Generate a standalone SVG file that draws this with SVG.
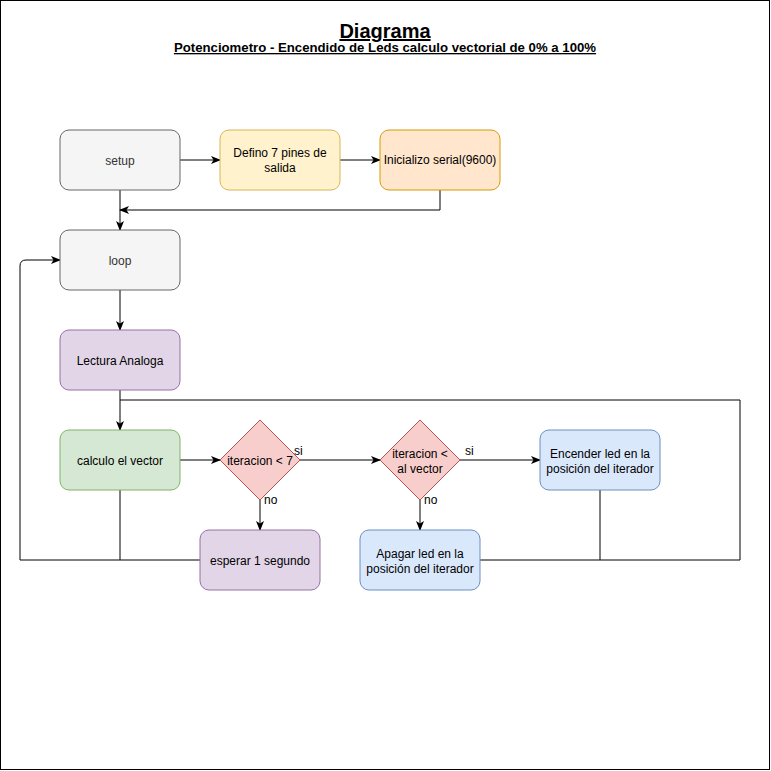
<svg xmlns="http://www.w3.org/2000/svg" width="771" height="771" viewBox="0 0 771 771">
<defs>
<marker id="arr" viewBox="0 0 10 10" refX="9" refY="5" markerWidth="10" markerHeight="10" markerUnits="userSpaceOnUse" orient="auto">
<path d="M0,1 L10,5 L0,9 L2.5,5 Z" fill="#000"/>
</marker>
<style>
text{font-family:"Liberation Sans",Arial,sans-serif;font-size:12px;fill:#000;text-anchor:middle}
.gray rect{fill:#f5f5f5;stroke:#666}
.gray text{fill:#333}
.yel rect{fill:#fff2cc;stroke:#d6b656}
.ora rect{fill:#ffe6cc;stroke:#d79b00}
.pur rect{fill:#e1d5e7;stroke:#9673a6}
.grn rect{fill:#d5e8d4;stroke:#82b366}
.blu rect{fill:#dae8fc;stroke:#6c8ebf}
.dia path{fill:#f8cecc;stroke:#b85450}
.c path{fill:none;stroke:#000;stroke-width:1}
.lbl{text-anchor:start}
</style>
</defs>
<rect x="0" y="0" width="771" height="771" fill="#fff"/>
<rect x="0.5" y="0.5" width="769" height="769" fill="none" stroke="#000"/>
<g id="title">
<text x="385" y="38" style="font-size:20px;font-weight:bold;text-decoration:underline">Diagrama</text>
<text x="385" y="52" style="font-size:13.2px;font-weight:bold;text-decoration:underline">Potenciometro - Encendido de Leds calculo vectorial de 0% a 100%</text>
</g>
<g id="connectors" class="c">
<path d="M180,160 H220" marker-end="url(#arr)"/>
<path d="M340,160 H380" marker-end="url(#arr)"/>
<path d="M440,190 V210 H120" marker-end="url(#arr)"/>
<path d="M120,190 V230" marker-end="url(#arr)"/>
<path d="M120,290 V330" marker-end="url(#arr)"/>
<path d="M120,390 V430" marker-end="url(#arr)"/>
<path d="M480,560 H740 V400 H120"/>
<path d="M600,490 V560"/>
<path d="M180,460 H220" marker-end="url(#arr)"/>
<path d="M300,460 H380" marker-end="url(#arr)"/>
<path d="M260,500 V530" marker-end="url(#arr)"/>
<path d="M460,460 H540" marker-end="url(#arr)"/>
<path d="M420,500 V530" marker-end="url(#arr)"/>
<path d="M200,560 H20 V266 Q20,260 26,260 H60" marker-end="url(#arr)"/>
<path d="M120,490 V560"/>
<text class="lbl" x="294" y="455">si</text>
<text class="lbl" x="264" y="504">no</text>
<text class="lbl" x="465" y="455">si</text>
<text class="lbl" x="424" y="504">no</text>
</g>
<g id="setup" class="gray"><rect x="60" y="130" width="120" height="60" rx="9"/><text x="120" y="165">setup</text></g>
<g id="defino" class="yel"><rect x="220" y="130" width="120" height="60" rx="9"/><text x="280" y="157">Defino 7 pines de</text><text x="280" y="172">salida</text></g>
<g id="inicializo" class="ora"><rect x="380" y="130" width="120" height="60" rx="9"/><text x="440" y="164">Inicializo serial(9600)</text></g>
<g id="loop" class="gray"><rect x="60" y="230" width="120" height="60" rx="9"/><text x="120" y="265">loop</text></g>
<g id="lectura" class="pur"><rect x="60" y="330" width="120" height="60" rx="9"/><text x="120" y="365">Lectura Analoga</text></g>
<g id="calculo" class="grn"><rect x="60" y="430" width="120" height="60" rx="9"/><text x="120" y="465">calculo el vector</text></g>
<g id="iter7" class="dia"><path d="M260,420 L300,460 L260,500 L220,460 Z"/><text x="260" y="465">iteracion &lt; 7</text></g>
<g id="itervec" class="dia"><path d="M420,420 L460,460 L420,500 L380,460 Z"/><text x="420" y="458">iteracion &lt;</text><text x="420" y="473">al vector</text></g>
<g id="encender" class="blu"><rect x="540" y="430" width="120" height="60" rx="9"/><text x="600" y="458">Encender led en la</text><text x="600" y="473">posición del iterador</text></g>
<g id="esperar" class="pur"><rect x="200" y="530" width="120" height="60" rx="9"/><text x="260" y="565">esperar 1 segundo</text></g>
<g id="apagar" class="blu"><rect x="360" y="530" width="120" height="60" rx="9"/><text x="420" y="558">Apagar led en la</text><text x="420" y="573">posición del iterador</text></g>
</svg>
